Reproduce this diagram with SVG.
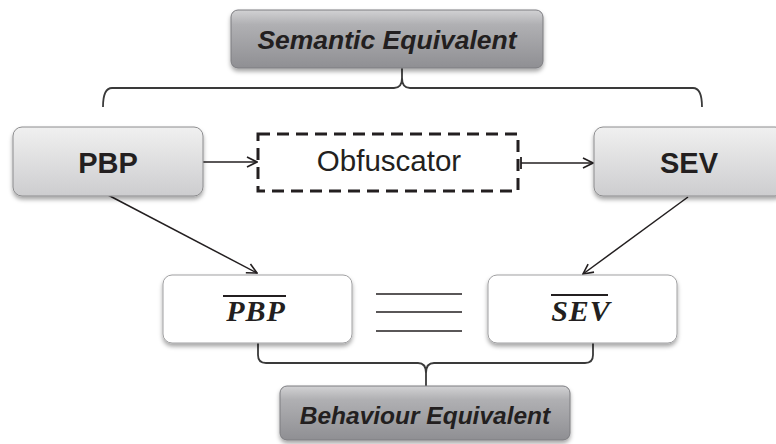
<svg xmlns="http://www.w3.org/2000/svg" width="776" height="444" viewBox="0 0 776 444">
  <style>
    .label { font-family: "Liberation Sans", Arial, sans-serif; fill: #231f20; text-anchor: middle; }
    .title { font-weight: bold; font-style: italic; }
    .main { font-size: 29px; font-weight: bold; }
    .plain { font-size: 29.5px; }
    .math { font-family: "Liberation Serif", "Times New Roman", serif; font-size: 30px; font-weight: bold; font-style: italic; fill: #231f20; text-anchor: middle; letter-spacing: 1px; }
    .bar { stroke: #231f20; stroke-width: 2; }
    .conn { fill: none; stroke: #231f20; stroke-width: 1.5; }
    .brace { fill: none; stroke: #3a3a3a; stroke-width: 1.8; }
  </style>
  <defs>
    <linearGradient id="darkGrad" x1="0" y1="0" x2="0" y2="1">
      <stop offset="0" stop-color="#d2d2d4"/>
      <stop offset="0.25" stop-color="#b0b0b3"/>
      <stop offset="1" stop-color="#8f8f93"/>
    </linearGradient>
    <linearGradient id="lightGrad" x1="0" y1="0" x2="0" y2="1">
      <stop offset="0" stop-color="#f0f0f0"/>
      <stop offset="1" stop-color="#cdcdcf"/>
    </linearGradient>
    <filter id="shadow" x="-10%" y="-10%" width="120%" height="140%">
      <feDropShadow dx="0" dy="3" stdDeviation="2" flood-color="#000" flood-opacity="0.35"/>
    </filter>
    <marker id="arrow" viewBox="0 0 12 12" refX="11" refY="6" markerWidth="12" markerHeight="12" markerUnits="userSpaceOnUse" orient="auto">
      <path d="M1,1 L11,6 L1,11" fill="none" stroke="#231f20" stroke-width="1.6"/>
    </marker>
    <marker id="tick" viewBox="0 0 4 14" refX="2" refY="7" markerWidth="4" markerHeight="14" markerUnits="userSpaceOnUse" orient="auto">
      <line x1="2" y1="1" x2="2" y2="13" stroke="#231f20" stroke-width="1.8"/>
    </marker>
  </defs>

  <rect width="776" height="444" fill="#ffffff"/>

  <!-- connectors: braces, arrows -->
  <g id="connectors">
    <path class="brace" d="M103,107 Q103,88 112,88 L394,88 Q402,88 402,78 L402,68 M402,78 Q402,88 410,88 L693,88 Q702,88 702,107"/>
    <path class="brace" d="M258,343 L258,355 Q258,363 266,363 L418,363 Q426,363 426,373 L426,386 M426,373 Q426,363 434,363 L585,363 Q593,363 593,355 L593,343"/>
    <line class="conn" x1="203" y1="162" x2="257" y2="162" marker-end="url(#arrow)"/>
    <line class="conn" x1="521" y1="163" x2="593" y2="163" marker-start="url(#tick)" marker-end="url(#arrow)"/>
    <line class="conn" x1="108" y1="195" x2="257" y2="273" marker-end="url(#arrow)"/>
    <line class="conn" x1="688" y1="197" x2="583" y2="274" marker-end="url(#arrow)"/>
  </g>

  <g id="semantic-equivalent">
    <rect x="231" y="10" width="312" height="58" rx="7" fill="url(#darkGrad)" stroke="#7c7c80" stroke-width="1" filter="url(#shadow)"/>
    <text class="label title" x="387" y="49" font-size="26.5">Semantic Equivalent</text>
  </g>

  <g id="pbp">
    <rect x="13" y="127" width="190" height="69" rx="9" fill="url(#lightGrad)" stroke="#8c8c8e" stroke-width="1" filter="url(#shadow)"/>
    <text class="label main" x="108" y="173">PBP</text>
  </g>

  <g id="obfuscator">
    <rect x="258" y="134" width="260" height="57" fill="none" stroke="#231f20" stroke-width="3" stroke-dasharray="12 7"/>
    <text class="label plain" x="389" y="171">Obfuscator</text>
  </g>

  <g id="sev">
    <rect x="594" y="127" width="190" height="69" rx="9" fill="url(#lightGrad)" stroke="#8c8c8e" stroke-width="1" filter="url(#shadow)"/>
    <text class="label main" x="689" y="173">SEV</text>
  </g>

  <g id="pbp-bar">
    <rect x="163" y="275" width="189" height="68" rx="9" fill="#ffffff" stroke="#a0a0a2" stroke-width="1" filter="url(#shadow)"/>
    <line class="bar" x1="223" y1="296" x2="286" y2="296"/>
    <text class="math" x="256" y="321">PBP</text>
  </g>

  <g id="equivalence">
    <line x1="376" y1="294" x2="462" y2="294" stroke="#231f20" stroke-width="1.6"/>
    <line x1="376" y1="312" x2="462" y2="312" stroke="#231f20" stroke-width="1.6"/>
    <line x1="376" y1="331" x2="462" y2="331" stroke="#231f20" stroke-width="1.6"/>
  </g>

  <g id="sev-bar">
    <rect x="488" y="275" width="189" height="68" rx="9" fill="#ffffff" stroke="#a0a0a2" stroke-width="1" filter="url(#shadow)"/>
    <line class="bar" x1="551" y1="295" x2="608" y2="295"/>
    <text class="math" x="581" y="321">SEV</text>
  </g>

  <g id="behaviour-equivalent">
    <rect x="280" y="386" width="290" height="54" rx="7" fill="url(#darkGrad)" stroke="#7c7c80" stroke-width="1" filter="url(#shadow)"/>
    <text class="label title" x="425" y="424" font-size="24.5">Behaviour Equivalent</text>
  </g>
</svg>
